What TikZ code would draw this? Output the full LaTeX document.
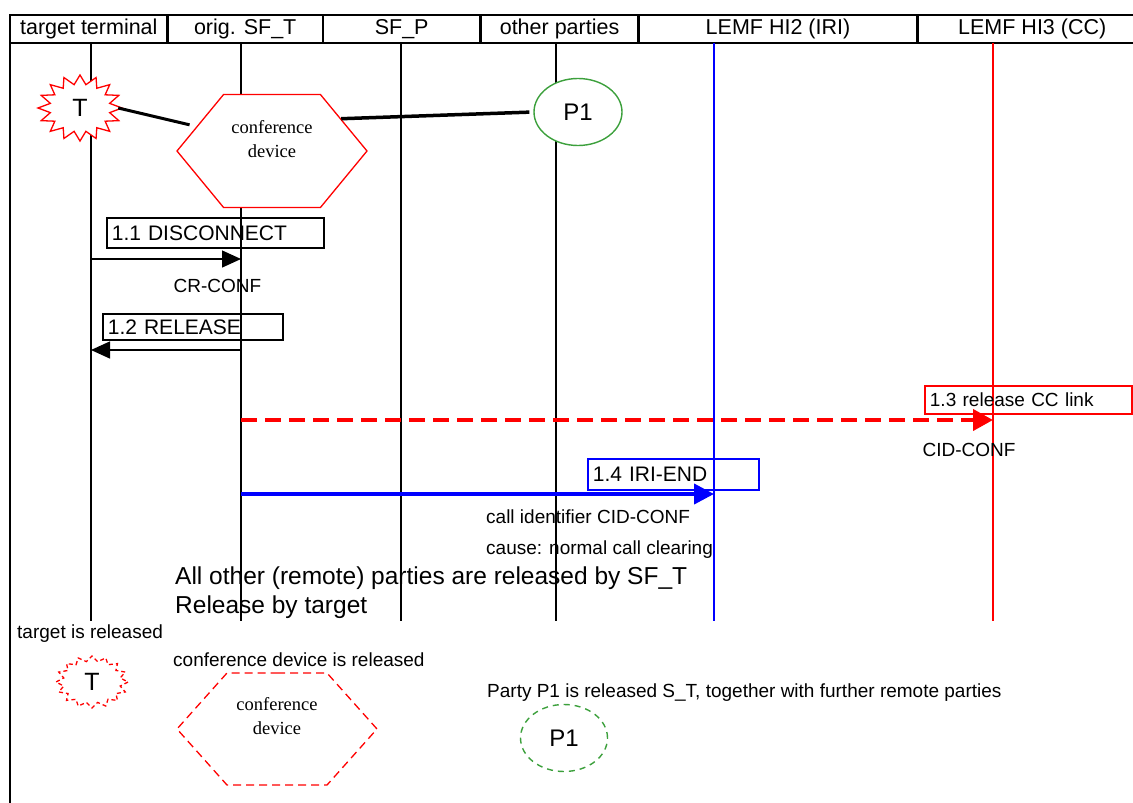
\documentclass[tikz,border=0pt]{standalone}
\usepackage{fontspec}
\setmainfont{Liberation Sans}
\newfontfamily\hexfont{Liberation Serif}
\usetikzlibrary{arrows.meta,positioning,calc,shapes.geometric,shapes.symbols}
\definecolor{partygreen}{RGB}{60,160,60}

\begin{document}
\begin{tikzpicture}[
    x=1pt, y=-1pt,
    hdr/.style={draw, line width=2.5pt, minimum height=28pt, inner sep=0pt, font=\fontsize{21.5}{24}\selectfont},
    lifeline/.style={line width=1.4pt},
    msgbox/.style={draw, line width=1.8pt, anchor=north west, inner xsep=5pt, inner ysep=0pt, align=left, font=\fontsize{21}{24}\selectfont},
    msg/.style={line width=1.4pt, -{Triangle[length=19pt, width=17pt]}},
    note/.style={inner sep=0pt, font=\fontsize{19}{22}\selectfont},
    big/.style={inner sep=0pt, align=left, font=\fontsize{24.5}{29}\selectfont},
    burst/.style={draw=red, fill=white, line width=1.3pt},
    hex/.style={signal, signal to=west and east, draw=red, fill=white, line width=1.3pt},
    hextext/.style={align=center, font=\hexfont\fontsize{18.5}{24}\selectfont},
    party/.style={ellipse, draw=partygreen, fill=white, line width=1.4pt, minimum width=88pt, minimum height=67pt, font=\fontsize{24}{26}\selectfont},
    link/.style={line width=3pt}
]
\useasboundingbox (0,0) rectangle (1133,803);

% header
\foreach \l/\r/\t [count=\i] in {10/167.6/target terminal, 167.6/322.8/orig. SF\_T, 322.8/480.6/SF\_P, 480.6/638.5/other parties, 638.5/917.5/LEMF HI2 (IRI), 917.5/1147/LEMF HI3 (CC)}
    \node[hdr, minimum width={(\r-\l)*1pt}] (h\i) at ({(\l+\r)/2},29) {\t};
\draw[line width=2pt] (10,15) -- (10,803);

% lifelines
\foreach \x/\n/\c in {91/tt/black, 241/sft/black, 401/sfp/black, 556/op/black, 714/hi2/blue, 993/hi3/red}
    \draw[lifeline, \c] (\x,43) coordinate (\n) -- (\x,621);

% conference set-up
\node[ellipse, minimum width=76pt, minimum height=66pt, inner sep=0pt] (T) at (80,108) {};
\draw[burst, shift={(T.center)}] plot[samples at={0,...,31}, variable=\k]
    ({42*(1-0.28*mod(\k,2))*cos(\k*11.25)}, {33*(1-0.28*mod(\k,2))*sin(\k*11.25)}) -- cycle;
\node[font=\fontsize{25}{27}\selectfont] (Tlabel) at (T.center) {T};
\node[hex, minimum width=190pt, minimum height=113pt, signal pointer angle=101,
      label={[hextext, yshift=12pt]center:conference\\device}] (conf) at (272,151) {};
\node[party] (P1) at (578,112) {P1};
\draw[link] (T.east) -- (conf.162) [shorten >=7pt];
\draw[link, line width=3.5pt] (conf.25) -- (P1.west) [shorten >=4pt];

% message levels
\coordinate (y11) at (0,259);
\coordinate (y12) at (0,350);
\coordinate (y13) at (0,420);
\coordinate (y14) at (0,494);

% 1.1
\node[msgbox, text width=207pt, minimum height=30pt] (m11) at (106,217) {1.1 DISCONNECT};
\draw[msg] (tt |- y11) -- (sft |- y11);
\node[note] (crconf) at (217.5,286) {CR-CONF};

% 1.2
\node[msgbox, text width=170pt, minimum height=26pt] (m12) at (102,313) {1.2 RELEASE};
\draw[msg] (sft |- y12) -- (tt |- y12);

% 1.3
\node[msgbox, draw=red, text width=197pt, minimum height=28pt, font=\fontsize{19}{22}\selectfont] (m13) at (924,385) {1.3 release CC link};
\draw[red, line width=4pt, dash pattern=on 16pt off 8pt, -{Triangle[length=20pt, width=21pt]}] (sft |- y13) -- (hi3 |- y13);
\node[note] (cidconf) at (969,450) {CID-CONF};

% 1.4
\node[msgbox, draw=blue, text width=161pt, minimum height=31pt] (m14) at (587,458) {1.4 IRI-END};
\draw[blue, line width=4pt, -{Triangle[length=20pt, width=20pt]}] (sft |- y14) -- (hi2 |- y14);
\node[note, anchor=west] (callid) at (486,517) {call identifier CID-CONF};
\node[note, anchor=west] (cause) at (486,550) {cause: normal call clearing};

% release
\node[big, anchor=west] (remote) at (175,592.5) {All other (remote) parties are released by SF\_T\\Release by target};
\node[note, anchor=west] (trel) at (17,634) {target is released};
\node[ellipse, minimum width=68pt, minimum height=48pt, inner sep=0pt] (Trel) at (92,682) {};
\draw[burst, dash pattern=on 4pt off 3pt, shift={(Trel.center)}] plot[samples at={0,...,31}, variable=\k]
    ({36*(1-0.2*mod(\k,2))*cos(\k*11.25)}, {26*(1-0.2*mod(\k,2))*sin(\k*11.25)}) -- cycle;
\node[font=\fontsize{25}{27}\selectfont] (Trellabel) at (Trel.center) {T};
\node[note, anchor=west] (confrelnote) at (173,660) {conference device is released};
\node[hex, dash pattern=on 8pt off 5pt, minimum width=200pt, minimum height=112pt, signal pointer angle=96.5,
      label={[hextext, yshift=12.5pt]center:conference\\device}] (confrel) at (277,729) {};
\node[note, anchor=west] (p1relnote) at (487,693) {Party P1 is released S\_T, together with further remote parties};
\node[party, dash pattern=on 6pt off 5pt, minimum width=87pt] (P1rel) at (564,738) {P1};

\end{tikzpicture}
\end{document}
